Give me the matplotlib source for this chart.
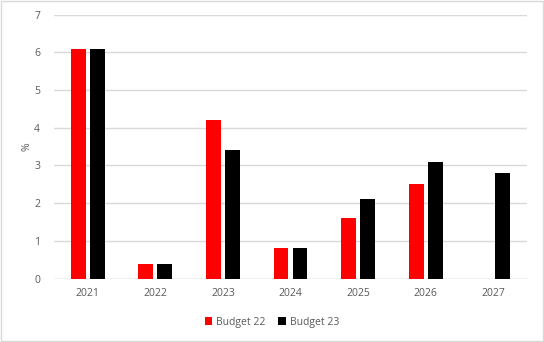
import matplotlib
matplotlib.use("Agg")
import matplotlib.pyplot as plt
import numpy as np

years = ["2021", "2022", "2023", "2024", "2025", "2026", "2027"]
budget22 = [6.1, 0.4, 4.2, 0.8, 1.6, 2.5, np.nan]
budget23 = [6.1, 0.4, 3.4, 0.8, 2.1, 3.1, 2.8]

plt.rcParams['font.family'] = ['Open Sans', 'DejaVu Sans']
tc = '#595959'

fig = plt.figure(figsize=(5.44, 3.42), dpi=100)
ax = fig.add_axes([0.0993, 0.1854, 0.8695, 0.7716])
x = np.arange(len(years))
w = 0.22
off = 0.14
ax.bar(x - off, budget22, width=w, color='#ff0000', label='Budget 22', zorder=3)
ax.bar(x + off, budget23, width=w, color='#000000', label='Budget 23', zorder=3)

ax.set_xlim(-0.5, len(years) - 0.5)
ax.set_ylim(0, 7)
ax.set_yticks(range(0, 8))
ax.set_xticks(x)
ax.set_xticklabels(years)
ax.yaxis.grid(True, color='#d9d9d9', linewidth=1, zorder=0)
for s in ax.spines.values():
    s.set_visible(False)
ax.axhline(0, color='#d9d9d9', linewidth=1, zorder=2)
ax.tick_params(axis='both', length=0, labelsize=7.5, labelcolor=tc)
ax.tick_params(axis='y', pad=10)
ax.tick_params(axis='x', pad=7)
ax.set_ylabel('%', fontsize=7.5, color=tc)
ax.yaxis.set_label_coords(-0.045, 0.5)

leg = fig.legend(loc='center', bbox_to_anchor=(0.5, 0.058), ncol=2, frameon=False,
                 fontsize=7.5, handlelength=0.7, handleheight=0.7, handletextpad=0.4,
                 columnspacing=1.2, labelcolor=tc)

fig.patches.append(plt.Rectangle((0.001, 0.002), 0.997, 0.995, transform=fig.transFigure,
                                 fill=False, edgecolor='#d9d9d9', linewidth=1))
fig.savefig('out.png', dpi=100)
